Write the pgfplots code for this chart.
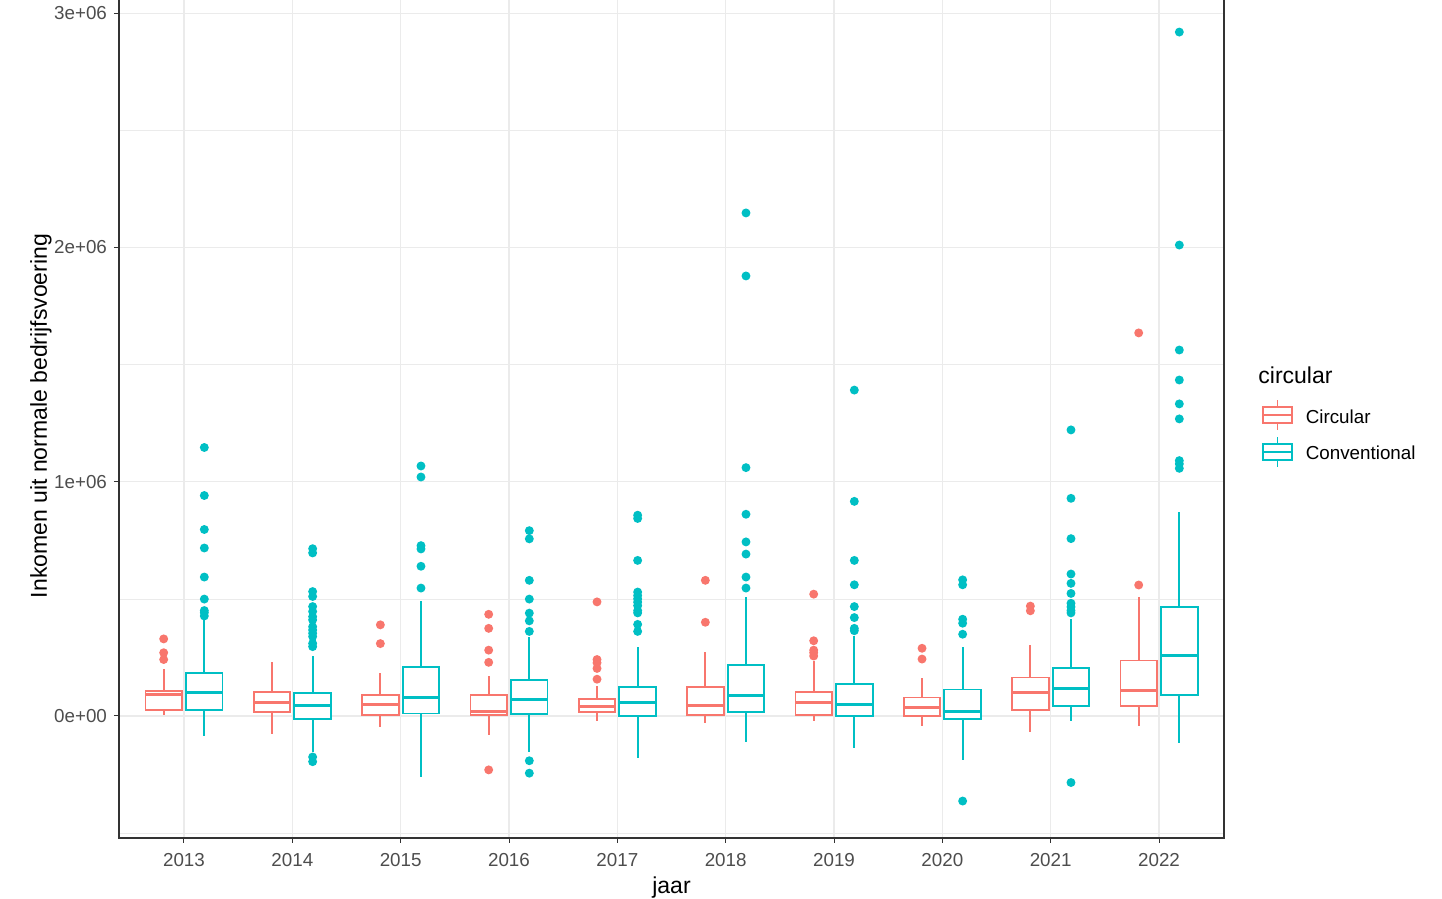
\documentclass[border=0pt]{standalone}
\usepackage{pgfplots}
\pgfplotsset{compat=1.18}
\usepgfplotslibrary{statistics}
\usepackage{fontspec}
\setmainfont{Liberation Sans}
\definecolor{circ}{HTML}{F8766D}
\definecolor{conv}{HTML}{00BFC4}
\definecolor{gridc}{HTML}{EBEBEB}
\definecolor{tickc}{HTML}{333333}
\definecolor{labc}{HTML}{4D4D4D}
\pgfplotsset{
  boxleg/.style={legend image code/.code={
    \draw[line width=0.9pt, fill=white] (0pt,-2.6pt) rectangle (14.5pt,5.4pt);
    \draw[line width=0.9pt] (0pt,1.4pt) -- (14.5pt,1.4pt);
    \draw[line width=0.9pt] (7.25pt,5.4pt) -- (7.25pt,8.9pt);
    \draw[line width=0.9pt] (7.25pt,-2.6pt) -- (7.25pt,-6.1pt);
  }},
  cbox/.style={forget plot, color=circ, solid, line width=0.9pt, mark=*, mark size=1.75pt,
    mark options={draw=none, fill=circ}, boxplot prepared={#1}},
  vbox/.style={forget plot, color=conv, solid, line width=0.9pt, mark=*, mark size=1.75pt,
    mark options={draw=none, fill=conv}, boxplot prepared={#1}},
}
\begin{document}
\begin{tikzpicture}
\begin{axis}[
  at={(0,0)}, anchor=south west,
  scale only axis, width=552.5pt, height=422pt,
  xmin=-0.6, xmax=9.6, ymin=-520700, ymax=3081500,
  xtick={0,1,2,3,4,5,6,7,8,9},
  xticklabels={2013,2014,2015,2016,2017,2018,2019,2020,2021,2022},
  ytick={0,1000000,2000000,3000000},
  yticklabels={0e+00,1e+06,2e+06,3e+06},
  minor ytick={-500000,500000,1500000,2500000},
  scaled y ticks=false,
  grid=both,
  major grid style={gridc, line width=0.55pt},
  minor grid style={gridc, line width=0.3pt},
  minor tick length=0pt,
  tick align=outside, major tick length=2.5pt,
  xtick pos=lower, ytick pos=lower,
  tick style={tickc, line width=0.5pt},
  axis line style={tickc, line width=0.6pt},
  ticklabel style={font=\fontsize{9.4}{11}\selectfont, text=labc},
  xticklabel style={yshift=-1.5pt},
  xlabel={jaar},
  ylabel={Inkomen uit normale bedrijfsvoering},
  every axis x label/.style={at={(axis description cs:0.5,-0.0652)}, anchor=base, font=\fontsize{11.5}{13}\selectfont},
  every axis y label/.style={at={(axis description cs:-0.0652,0.5)}, rotate=90, anchor=base, font=\fontsize{11.5}{13}\selectfont},
  boxplot/draw direction=y,
  boxplot/box extend=0.3375,
  boxplot/whisker extend=0,
  boxplot/every box/.style={fill=white, line width=0.9pt},
  boxplot/every whisker/.style={line width=0.9pt},
  boxplot/every median/.style={line width=1.5pt},
  legend style={at={(axis description cs:1.0344,0.52)}, anchor=north west, draw=none, fill=none,
    inner sep=0pt, outer sep=0pt, row sep=2.5pt, font=\fontsize{9.4}{11}\selectfont,
    nodes={inner sep=0pt}, /tikz/every odd column/.append style={column sep=6.5pt}},
  legend cell align=left,
]
% ---- 2013 ----
\addplot[cbox={draw position=-0.1875, lower whisker=3000, lower quartile=24000, median=91000, upper quartile=106000, upper whisker=199000}]
  table[row sep=\\, y index=0] {y\\ 329000\\ 270000\\ 241000\\};
\addplot[vbox={draw position=0.1875, lower whisker=-87000, lower quartile=24000, median=101000, upper quartile=183000, upper whisker=410000}]
  table[row sep=\\, y index=0] {y\\ 1146000\\ 941000\\ 796000\\ 717000\\ 593000\\ 499000\\ 450000\\ 441000\\ 427000\\};
% ---- 2014 ----
\addplot[cbox={draw position=0.8125, lower whisker=-76000, lower quartile=17000, median=56000, upper quartile=104000, upper whisker=231000}]
  coordinates {};
\addplot[vbox={draw position=1.1875, lower whisker=-154000, lower quartile=-14000, median=43000, upper quartile=99000, upper whisker=257000}]
  table[row sep=\\, y index=0] {y\\ 714000\\ 696000\\ 531000\\ 510000\\ 467000\\ 446000\\ 424000\\ 410000\\ 381000\\ 367000\\ 353000\\ 339000\\ 310000\\ 296000\\ -175000\\ -195000\\};
% ---- 2015 ----
\addplot[cbox={draw position=1.8125, lower whisker=-47000, lower quartile=4000, median=49000, upper quartile=91000, upper whisker=184000}]
  table[row sep=\\, y index=0] {y\\ 389000\\ 309000\\};
\addplot[vbox={draw position=2.1875, lower whisker=-259000, lower quartile=11000, median=81000, upper quartile=210000, upper whisker=489000}]
  table[row sep=\\, y index=0] {y\\ 1067000\\ 1020000\\ 727000\\ 713000\\ 639000\\ 546000\\};
% ---- 2016 ----
\addplot[cbox={draw position=2.8125, lower whisker=-80000, lower quartile=4000, median=21000, upper quartile=91000, upper whisker=171000}]
  table[row sep=\\, y index=0] {y\\ 434000\\ 374000\\ 281000\\ 229000\\ -230000\\};
\addplot[vbox={draw position=3.1875, lower whisker=-154000, lower quartile=10000, median=70000, upper quartile=153000, upper whisker=339000}]
  table[row sep=\\, y index=0] {y\\ 791000\\ 756000\\ 579000\\ 499000\\ 439000\\ 406000\\ 361000\\ -191000\\ -244000\\};
% ---- 2017 ----
\addplot[cbox={draw position=3.8125, lower whisker=-23000, lower quartile=17000, median=39000, upper quartile=73000, upper whisker=127000}]
  table[row sep=\\, y index=0] {y\\ 487000\\ 241000\\ 227000\\ 203000\\ 157000\\};
\addplot[vbox={draw position=4.1875, lower whisker=-180000, lower quartile=-1000, median=56000, upper quartile=124000, upper whisker=296000}]
  table[row sep=\\, y index=0] {y\\ 857000\\ 843000\\ 664000\\ 529000\\ 514000\\ 500000\\ 486000\\ 471000\\ 450000\\ 440000\\ 391000\\ 361000\\};
% ---- 2018 ----
\addplot[cbox={draw position=4.8125, lower whisker=-29000, lower quartile=4000, median=43000, upper quartile=124000, upper whisker=271000}]
  table[row sep=\\, y index=0] {y\\ 579000\\ 400000\\};
\addplot[vbox={draw position=5.1875, lower whisker=-109000, lower quartile=17000, median=89000, upper quartile=217000, upper whisker=507000}]
  table[row sep=\\, y index=0] {y\\ 2147000\\ 1878000\\ 1060000\\ 861000\\ 743000\\ 691000\\ 593000\\ 546000\\};
% ---- 2019 ----
\addplot[cbox={draw position=5.8125, lower whisker=-23000, lower quartile=4000, median=56000, upper quartile=104000, upper whisker=234000}]
  table[row sep=\\, y index=0] {y\\ 520000\\ 321000\\ 281000\\ 270000\\ 256000\\};
\addplot[vbox={draw position=6.1875, lower whisker=-136000, lower quartile=-1000, median=49000, upper quartile=137000, upper whisker=341000}]
  table[row sep=\\, y index=0] {y\\ 1391000\\ 916000\\ 664000\\ 560000\\ 467000\\ 420000\\ 374000\\ 364000\\};
% ---- 2020 ----
\addplot[cbox={draw position=6.8125, lower whisker=-41000, lower quartile=0, median=37000, upper quartile=79000, upper whisker=164000}]
  table[row sep=\\, y index=0] {y\\ 289000\\ 243000\\};
\addplot[vbox={draw position=7.1875, lower whisker=-187000, lower quartile=-14000, median=21000, upper quartile=113000, upper whisker=296000}]
  table[row sep=\\, y index=0] {y\\ 581000\\ 560000\\ 413000\\ 396000\\ 349000\\ -363000\\};
% ---- 2021 ----
\addplot[cbox={draw position=7.8125, lower whisker=-69000, lower quartile=24000, median=101000, upper quartile=164000, upper whisker=303000}]
  table[row sep=\\, y index=0] {y\\ 469000\\ 449000\\};
\addplot[vbox={draw position=8.1875, lower whisker=-23000, lower quartile=44000, median=116000, upper quartile=204000, upper whisker=414000}]
  table[row sep=\\, y index=0] {y\\ 1221000\\ 929000\\ 757000\\ 606000\\ 566000\\ 523000\\ 481000\\ 466000\\ 450000\\ 440000\\ -284000\\};
% ---- 2022 ----
\addplot[cbox={draw position=8.8125, lower whisker=-41000, lower quartile=44000, median=109000, upper quartile=237000, upper whisker=507000}]
  table[row sep=\\, y index=0] {y\\ 1635000\\ 559000\\};
\addplot[vbox={draw position=9.1875, lower whisker=-116000, lower quartile=91000, median=259000, upper quartile=466000, upper whisker=870000}]
  table[row sep=\\, y index=0] {y\\ 2919000\\ 2010000\\ 1562000\\ 1434000\\ 1332000\\ 1268000\\ 1090000\\ 1076000\\ 1057000\\};
% ---- legend ----
\addlegendimage{boxleg, circ}
\addlegendentry{Circular}
\addlegendimage{boxleg, conv}
\addlegendentry{Conventional}
\end{axis}
\node[anchor=base west, inner sep=0pt, font=\fontsize{11.5}{13}\selectfont] at (569.5pt,227pt) {circular};
\pgfresetboundingbox
\useasboundingbox (-59.5pt,-30.5pt) rectangle (661.5pt,419pt);
\end{tikzpicture}
\end{document}
